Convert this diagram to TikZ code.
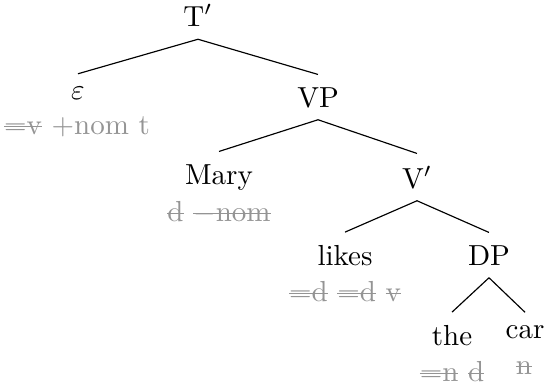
\documentclass[tikz,border=0pt]{standalone}
\newcommand\strk[1]{\setbox0\hbox{#1}\rlap{\rule[2.4pt]{\wd0}{0.4pt}}\box0\relax}
\begin{document}
\begin{tikzpicture}[x=0.345pt,y=-0.345pt,
  word/.style={anchor=base,inner xsep=0pt,inner ysep=4.2pt,text depth=0pt},
  feat/.style={anchor=base,inner sep=0pt,text=black!42},
  branch/.style={draw=black,line width=0.4pt}]
\useasboundingbox (0,0) rectangle (545,388);
\node[word] (T) at (198,26.5) {T$'$};
\node[word] (eps) at (78,99) {$\varepsilon$};
\node[feat] (epsf) at (77,134) {\strk{$=$v} $+$nom t};
\node[word] (VP) at (318,107) {VP};
\node[word] (Mary) at (219,184) {Mary};
\node[feat] (Maryf) at (219,221) {\strk{d} \strk{$-$nom}};
\node[word] (Vp) at (417,188) {V$'$};
\node[word] (likes) at (345,265) {likes};
\node[feat] (likesf) at (345,301) {\strk{$=$d} \strk{$=$d} \strk{v}};
\node[word] (DP) at (489,265) {DP};
\node[word] (the) at (452,345) {the};
\node[feat] (thef) at (452,381) {\strk{$=$n} \strk{d}};
\node[word] (car) at (525,338) {car};
\node[feat] (carf) at (524,374) {\strk{n}};
\draw[branch] (T.south) -- (eps.north);
\draw[branch] (T.south) -- (VP.north);
\draw[branch] (VP.south) -- (Mary.north);
\draw[branch] (VP.south) -- (Vp.north);
\draw[branch] (Vp.south) -- (likes.north);
\draw[branch] (Vp.south) -- (DP.north);
\draw[branch] (DP.south) -- (the.north);
\draw[branch] (DP.south) -- (car.north);
\end{tikzpicture}
\end{document}
